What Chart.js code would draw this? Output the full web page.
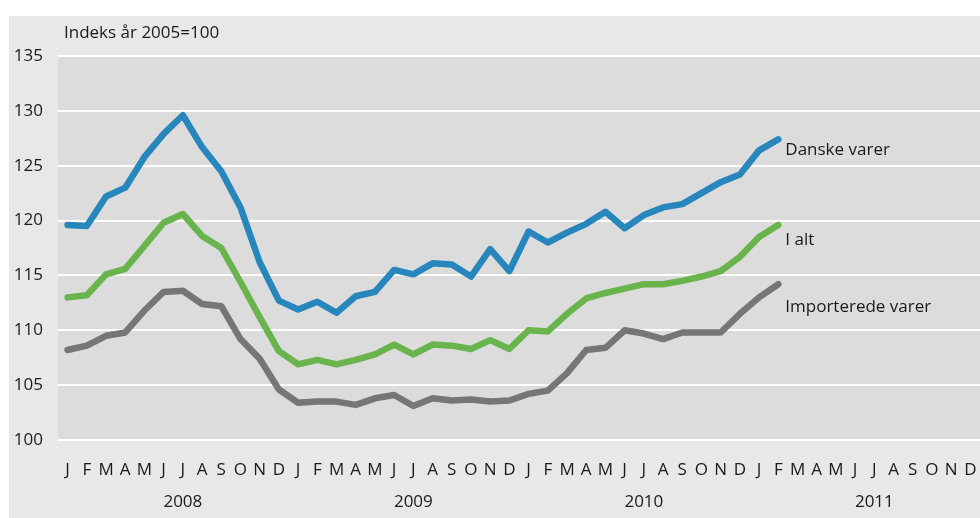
<!DOCTYPE html>
<html>
<head>
<meta charset="utf-8">
<script src="https://cdn.jsdelivr.net/npm/chart.js@4/dist/chart.umd.min.js"></script>
<style>
  html, body { margin: 0; padding: 0; background: #fff; }
  #wrap { width: 980px; height: 518px; position: relative; }
</style>
</head>
<body>
<div id="wrap"><canvas id="chart" width="980" height="518"></canvas></div>
<script>
// --- data -------------------------------------------------------------
const months = ['J','F','M','A','M','J','J','A','S','O','N','D'];
const years = ['2008', '2009', '2010', '2011'];
const unitLabel = 'Indeks år 2005=100';

const danske = [
  119.6, 119.5, 122.2, 123.0, 125.8, 127.9, 129.6, 126.7, 124.5, 121.2, 116.2, 112.7,
  111.9, 112.6, 111.6, 113.1, 113.5, 115.5, 115.1, 116.1, 116.0, 114.9, 117.4, 115.4,
  119.0, 118.0, 118.9, 119.7, 120.8, 119.3, 120.5, 121.2, 121.5, 122.5, 123.5, 124.2,
  126.4, 127.4
];
const ialt = [
  113.0, 113.2, 115.1, 115.6, 117.7, 119.8, 120.6, 118.6, 117.5, 114.4, 111.2, 108.1,
  106.9, 107.3, 106.9, 107.3, 107.8, 108.7, 107.8, 108.7, 108.6, 108.3, 109.1, 108.3,
  110.0, 109.9, 111.5, 112.9, 113.4, 113.8, 114.2, 114.2, 114.5, 114.9, 115.4, 116.7,
  118.5, 119.6
];
const importerede = [
  108.2, 108.6, 109.5, 109.8, 111.8, 113.5, 113.6, 112.4, 112.2, 109.2, 107.4, 104.6,
  103.4, 103.5, 103.5, 103.2, 103.8, 104.1, 103.1, 103.8, 103.6, 103.7, 103.5, 103.6,
  104.2, 104.5, 106.1, 108.2, 108.4, 110.0, 109.7, 109.2, 109.8, 109.8, 109.8, 111.5,
  113.0, 114.2
];
const seriesNames = ['Danske varer', 'I alt', 'Importerede varer'];

// 48 month slots, 2008-2011
const labels = [];
years.forEach(() => months.forEach(m => labels.push(m)));

const FONT = '"Open Sans", sans-serif';
const TXT = '#1a1a1a';

// panel + plot background, and the free text (unit, years, series names)
const decor = {
  id: 'decor',
  beforeDraw(chart) {
    const { ctx, chartArea: a } = chart;
    ctx.save();
    ctx.fillStyle = '#e8e8e8';
    ctx.fillRect(9, 16, chart.width - 9, chart.height - 16);
    ctx.fillStyle = '#dcdcdc';
    ctx.fillRect(a.left, a.top, a.right - a.left, a.bottom - a.top);
    ctx.restore();
  },
  afterDraw(chart) {
    const { ctx } = chart;
    const x = chart.scales.x;
    ctx.save();
    ctx.fillStyle = TXT;
    ctx.font = '17px ' + FONT;
    ctx.textBaseline = 'middle';
    ctx.textAlign = 'left';
    ctx.fillText(unitLabel, 64, 33);

    // years under July of each year
    ctx.textAlign = 'center';
    years.forEach((y, i) => ctx.fillText(y, x.getPixelForValue(i * 12 + 6), 502));

    // series names next to last points
    ctx.textAlign = 'left';
    const dy = [11, 15, 23];
    chart.data.datasets.forEach((ds, i) => {
      const pts = chart.getDatasetMeta(i).data;
      const p = pts[pts.length - 1];
      ctx.fillText(seriesNames[i], p.x + 7, p.y + dy[i]);
    });
    ctx.restore();
  }
};

const line = (data, color) => ({
  data, borderColor: color, backgroundColor: color,
  borderWidth: 6.5, pointRadius: 0, tension: 0,
  borderJoinStyle: 'round', borderCapStyle: 'round'
});

new Chart(document.getElementById('chart'), {
  type: 'line',
  data: {
    labels,
    datasets: [
      line(danske, '#2786bb'),
      line(ialt, '#6ab44e'),
      line(importerede, '#767676'),
    ],
  },
  plugins: [decor],
  options: {
    responsive: false,
    animation: false,
    layout: { padding: { top: 56, right: 0, left: 0, bottom: 0 } },
    plugins: { legend: { display: false }, tooltip: { enabled: false } },
    scales: {
      x: {
        offset: true,
        grid: { display: false, drawTicks: false },
        border: { display: false },
        ticks: { color: TXT, font: { family: FONT, size: 17 }, autoSkip: false, maxRotation: 0, padding: 20 },
        afterFit(s) { s.height = 78; s.paddingLeft = 0; s.paddingRight = 0; },
      },
      y: {
        min: 100, max: 135,
        grid: { color: '#ffffff', lineWidth: 2, drawTicks: false },
        border: { display: false },
        ticks: { stepSize: 5, color: TXT, font: { family: FONT, size: 17 }, padding: 15 },
        afterFit(s) { s.width = 58; },
      },
    },
  },
});
</script>
</body>
</html>
